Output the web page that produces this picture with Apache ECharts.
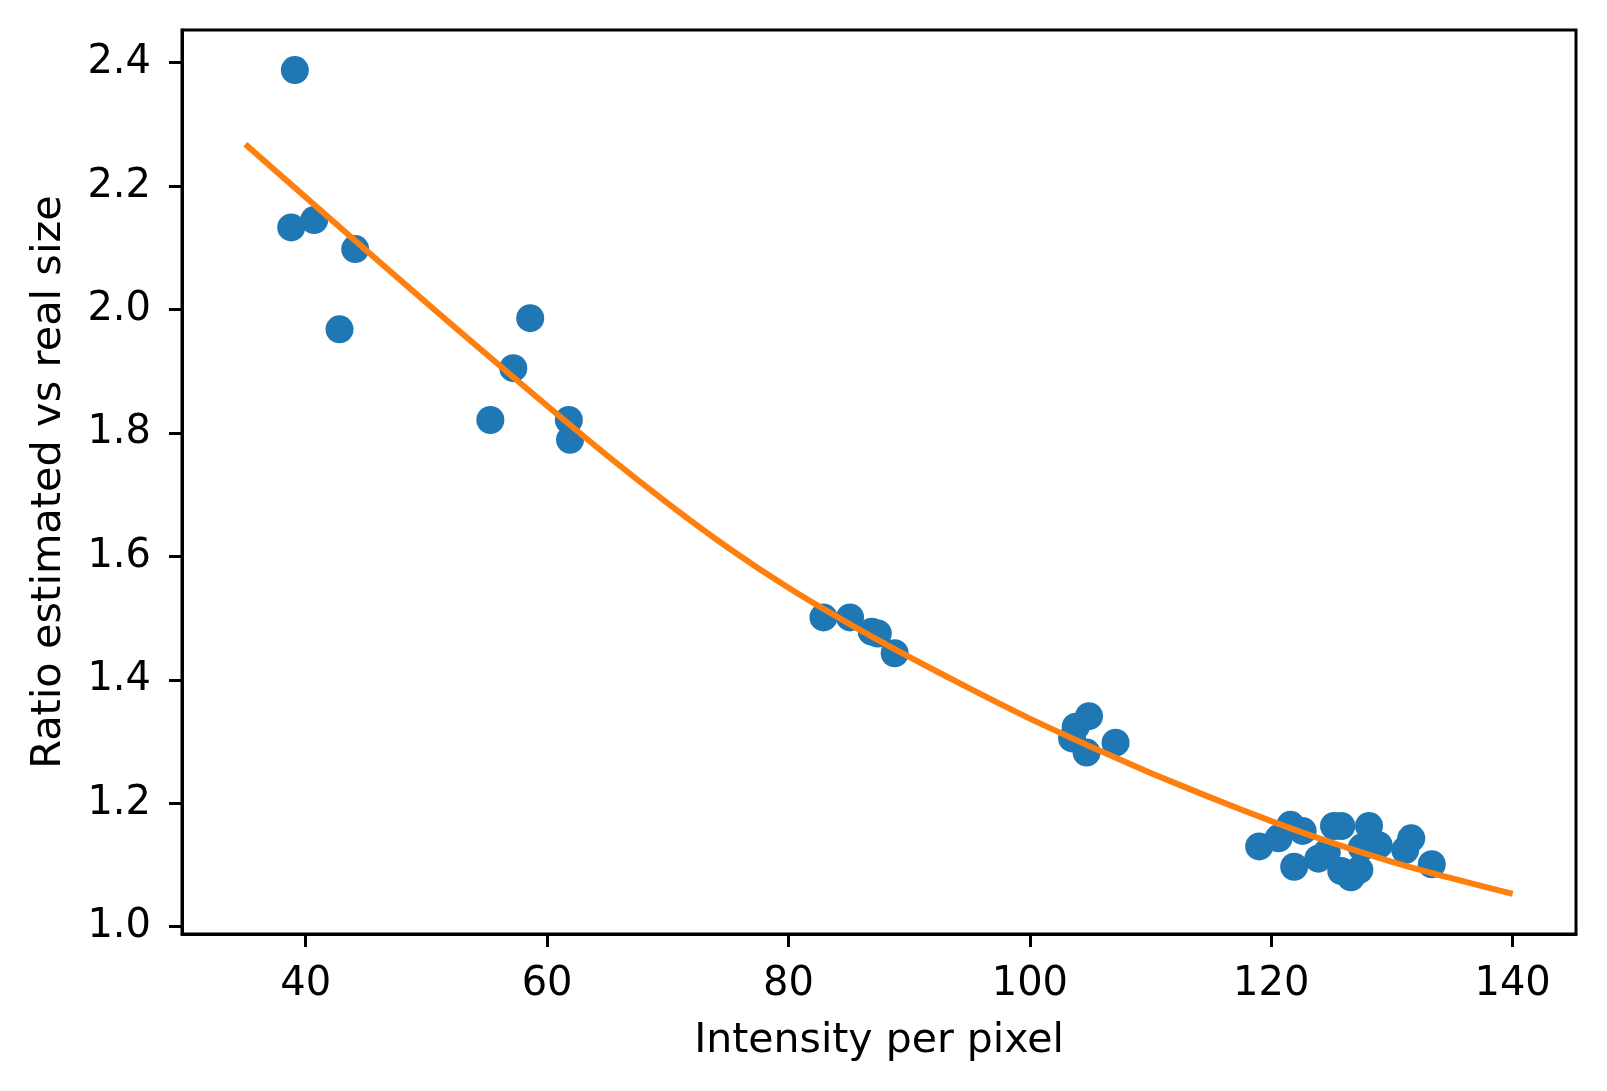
<!DOCTYPE html>
<html>
<head>
<meta charset="utf-8">
<script src="https://cdn.jsdelivr.net/npm/echarts@6/dist/echarts.min.js"></script>
<style>
  html, body { margin: 0; padding: 0; background: #fff; }
  #chart { width: 1607px; height: 1091px; }
</style>
</head>
<body>
<div id="chart"></div>
<script>
// measured points
const intensity = [
  39.1, 38.8, 40.7, 44.1, 42.8, 58.6, 57.2, 55.3, 61.8, 61.9,
  82.9, 85.1, 86.9, 87.4, 88.8,
  104.9, 103.8, 103.5, 104.7, 107.1,
  119.0, 120.6, 121.6, 122.6, 121.9, 123.9, 124.6, 125.2, 125.8, 125.8,
  126.6, 127.3, 127.5, 128.1, 128.9, 131.1, 131.6, 133.3
];
const ratio = [
  2.388, 2.133, 2.145, 2.098, 1.968, 1.986, 1.905, 1.821, 1.821, 1.789,
  1.501, 1.501, 1.478, 1.475, 1.443,
  1.341, 1.324, 1.305, 1.282, 1.298,
  1.130, 1.143, 1.165, 1.155, 1.097, 1.110, 1.120, 1.163, 1.163, 1.090,
  1.080, 1.092, 1.128, 1.163, 1.132, 1.124, 1.143, 1.101
];

// fitted curve
const fitX = [35, 40, 45, 50, 55, 60, 65, 70, 75, 80, 85, 90, 95, 100, 105, 110, 115, 120, 125, 130, 135, 140];
const fitY = [2.268, 2.182, 2.096, 2.011, 1.927, 1.844, 1.763, 1.686, 1.614, 1.549, 1.491, 1.437,
              1.386, 1.337, 1.292, 1.249, 1.209, 1.171, 1.136, 1.105, 1.078, 1.053];

const xTicks = [40, 60, 80, 100, 120, 140];
const yTicks = [1.0, 1.2, 1.4, 1.6, 1.8, 2.0, 2.2, 2.4];

const font = 'DejaVu Sans';
const chart = echarts.init(document.getElementById('chart'));

chart.setOption({
  animation: false,
  backgroundColor: '#fff',
  grid: {
    left: 182, right: 31, top: 30, bottom: 157,
    show: true, borderColor: '#000', borderWidth: 3, backgroundColor: 'transparent'
  },
  xAxis: {
    type: 'value',
    min: 29.75, max: 145.25,
    name: 'Intensity per pixel',
    nameLocation: 'middle',
    nameGap: 87,
    nameTextStyle: { fontFamily: font, fontSize: 41, color: '#000' },
    splitLine: { show: false },
    axisLine: { show: true, lineStyle: { color: '#000', width: 3 } },
    axisTick: { show: true, length: 13, lineStyle: { color: '#000', width: 3 }, customValues: xTicks },
    axisLabel: { fontFamily: font, fontSize: 40, color: '#000', margin: 31, customValues: xTicks }
  },
  yAxis: {
    type: 'value',
    min: 0.988, max: 2.453,
    name: 'Ratio estimated vs real size',
    nameLocation: 'middle',
    nameGap: 112,
    nameTextStyle: { fontFamily: font, fontSize: 41.5, color: '#000' },
    splitLine: { show: false },
    axisLine: { show: true, lineStyle: { color: '#000', width: 3 } },
    axisTick: { show: true, length: 13, lineStyle: { color: '#000', width: 3 }, customValues: yTicks },
    axisLabel: {
      fontFamily: font, fontSize: 40, color: '#000', margin: 31, customValues: yTicks,
      formatter: v => v.toFixed(1)
    }
  },
  series: [
    {
      type: 'scatter',
      data: intensity.map((x, i) => [x, ratio[i]]),
      symbol: 'circle',
      symbolSize: 28,
      itemStyle: { color: '#1f77b4', opacity: 1 },
      z: 2
    },
    {
      type: 'line',
      data: fitX.map((x, i) => [x, fitY[i]]),
      showSymbol: false,
      smooth: 0.2,
      lineStyle: { color: '#ff7f0e', width: 6 },
      z: 3
    }
  ]
});
</script>
</body>
</html>
